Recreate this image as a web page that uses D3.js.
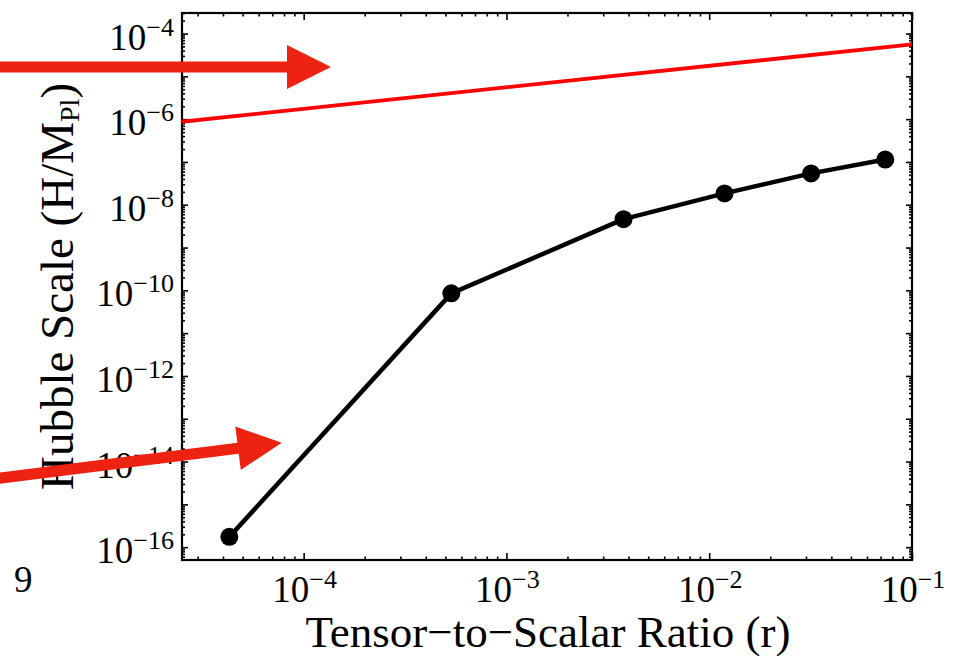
<!DOCTYPE html>
<html lang="en">
<head>
    <meta charset="UTF-8">
    <title>Hubble Scale vs Tensor-to-Scalar Ratio</title>
    <style>
        body { margin: 0; background: #fff; }
        svg { display: block; }
        .lab { font-family: "Liberation Serif", "Times New Roman", serif; fill: #000; }
        .axis path, .axis line { stroke: #000; }
    </style>
</head>
<body>
<script src="https://d3js.org/d3.v7.min.js"></script>
<script>
    // data
    var rVals = [4.3e-5, 5.35e-4, 3.78e-3, 0.0119, 0.0318, 0.0738];
    var hubbleVals = [1.74e-16, 8.5e-11, 4.6e-9, 1.84e-8, 5.4e-8, 1.14e-7];
    var boundR = [2.5e-5, 0.1];
    var boundH = [8.7e-7, 5.6e-5];
    var xTickExps = [-4, -3, -2, -1];
    var yTickExps = [-16, -14, -12, -10, -8, -6, -4];
    var xTitle = "Tensor\u2212to\u2212Scalar Ratio (r)";

    var width = 954, height = 656;
    var x0 = 182, x1 = 912, y0 = 560, y1 = 13;

    var svg = d3.select("body").append("svg")
        .attr("width", width)
        .attr("height", height);

    var x = d3.scaleLog().domain([Math.pow(10, -4.6), 0.1]).range([x0, x1]);
    var y = d3.scaleLog().domain([Math.pow(10, -16.3), Math.pow(10, -3.52)]).range([y0, y1]);

    /* tick values: decades are major, 2..9 are minor */
    function decades(sc) {
        var d = sc.domain(), out = [];
        for (var e = Math.ceil(Math.log10(d[0]) - 1e-9); e <= Math.floor(Math.log10(d[1]) + 1e-9); e++) out.push(Math.pow(10, e));
        return out;
    }
    function minors(sc) {
        var d = sc.domain(), out = [];
        for (var e = Math.floor(Math.log10(d[0])); e < Math.ceil(Math.log10(d[1])); e++) {
            for (var k = 2; k < 10; k++) {
                var v = k * Math.pow(10, e);
                if (v > d[0] && v < d[1]) out.push(v);
            }
        }
        return out;
    }

    function drawAxis(gen, tx, ty, vals, len) {
        var g = svg.append("g")
            .attr("class", "axis")
            .attr("transform", "translate(" + tx + "," + ty + ")")
            .call(gen.tickValues(vals).tickSizeInner(len).tickSizeOuter(0).tickFormat(""));
        g.select(".domain").remove();
        g.selectAll("line").attr("stroke-width", 1.6);
    }

    var xMaj = decades(x), xMin = minors(x);
    var yMaj = decades(y), yMin = minors(y);

    // ticks point into the box on all four sides
    drawAxis(d3.axisBottom(x), 0, y0, xMaj, -7);
    drawAxis(d3.axisBottom(x), 0, y0, xMin, -3.5);
    drawAxis(d3.axisTop(x), 0, y1, xMaj, -7);
    drawAxis(d3.axisTop(x), 0, y1, xMin, -3.5);
    drawAxis(d3.axisLeft(y), x0, 0, yMaj, -6);
    drawAxis(d3.axisLeft(y), x0, 0, yMin, -3);
    drawAxis(d3.axisRight(y), x1, 0, yMaj, -6);
    drawAxis(d3.axisRight(y), x1, 0, yMin, -3);

    svg.append("rect")
        .attr("x", x0).attr("y", y1)
        .attr("width", x1 - x0).attr("height", y0 - y1)
        .attr("fill", "none")
        .attr("stroke", "#000")
        .attr("stroke-width", 2.2);

    /* tick labels 10^n */
    function powLabel(sel, e) {
        sel.append("tspan").text("10");
        sel.append("tspan")
            .attr("font-size", "26px")
            .attr("dy", -14)
            .text("\u2212" + Math.abs(e));
    }

    xTickExps.forEach(function (e) {
        svg.append("text")
            .attr("class", "lab")
            .attr("x", x(Math.pow(10, e)) + 1)
            .attr("y", 602)
            .attr("text-anchor", "middle")
            .attr("font-size", "37px")
            .call(powLabel, e);
    });

    yTickExps.forEach(function (e) {
        svg.append("text")
            .attr("class", "lab")
            .attr("x", 174)
            .attr("y", y(Math.pow(10, e)) + 16)
            .attr("text-anchor", "end")
            .attr("font-size", "37px")
            .call(powLabel, e);
    });

    /* axis titles */
    svg.append("text")
        .attr("class", "lab")
        .attr("x", (x0 + x1) / 2 + 1)
        .attr("y", 647)
        .attr("text-anchor", "middle")
        .attr("font-size", "45px")
        .text(xTitle);

    var yl = svg.append("text")
        .attr("class", "lab")
        .attr("transform", "translate(73," + ((y0 + y1) / 2) + ") rotate(-90)")
        .attr("text-anchor", "middle")
        .attr("font-size", "47px");
    yl.append("tspan").text("Hubble Scale (H/M");
    yl.append("tspan").attr("font-size", "28px").attr("dy", 6).text("Pl");
    yl.append("tspan").attr("dy", -6).text(")");

    /* red bound */
    var boundLine = d3.line()
        .x(function (d) { return x(d[0]); })
        .y(function (d) { return y(d[1]); });
    svg.append("path")
        .datum(d3.zip(boundR, boundH))
        .attr("d", boundLine)
        .attr("fill", "none")
        .attr("stroke", "#ff0000")
        .attr("stroke-width", 3.8);

    /* black curve */
    var pts = d3.zip(rVals, hubbleVals);
    svg.append("path")
        .datum(pts)
        .attr("d", boundLine)
        .attr("fill", "none")
        .attr("stroke", "#000")
        .attr("stroke-width", 4.5)
        .attr("stroke-linejoin", "round");
    svg.selectAll(".dot")
        .data(pts)
        .enter()
        .append("circle")
        .attr("class", "dot")
        .attr("cx", function (d) { return x(d[0]); })
        .attr("cy", function (d) { return y(d[1]); })
        .attr("r", 9)
        .attr("fill", "#000");

    /* stray page number */
    svg.append("text")
        .attr("class", "lab")
        .attr("x", 14)
        .attr("y", 592)
        .attr("font-size", "37px")
        .text("9");

    /* red annotation arrows, in page pixels */
    var arrows = [
        {x1: -5, y1: 67, x2: 331, y2: 67},
        {x1: -3, y1: 478.6, x2: 281.7, y2: 442.7}
    ];
    var headLen = 44, headHalf = 22, shaftHalf = 5.6;
    arrows.forEach(function (a) {
        var dx = a.x2 - a.x1, dy = a.y2 - a.y1;
        var L = Math.sqrt(dx * dx + dy * dy);
        var ux = dx / L, uy = dy / L, nx = -uy, ny = ux;
        var bx = a.x2 - ux * headLen, by = a.y2 - uy * headLen;
        var p = [
            [a.x1 + nx * shaftHalf, a.y1 + ny * shaftHalf],
            [bx + nx * shaftHalf, by + ny * shaftHalf],
            [bx + nx * headHalf, by + ny * headHalf],
            [a.x2, a.y2],
            [bx - nx * headHalf, by - ny * headHalf],
            [bx - nx * shaftHalf, by - ny * shaftHalf],
            [a.x1 - nx * shaftHalf, a.y1 - ny * shaftHalf]
        ];
        svg.append("path")
            .attr("d", "M" + p.join("L") + "Z")
            .attr("fill", "#ee2211");
    });
</script>
</body>
</html>
